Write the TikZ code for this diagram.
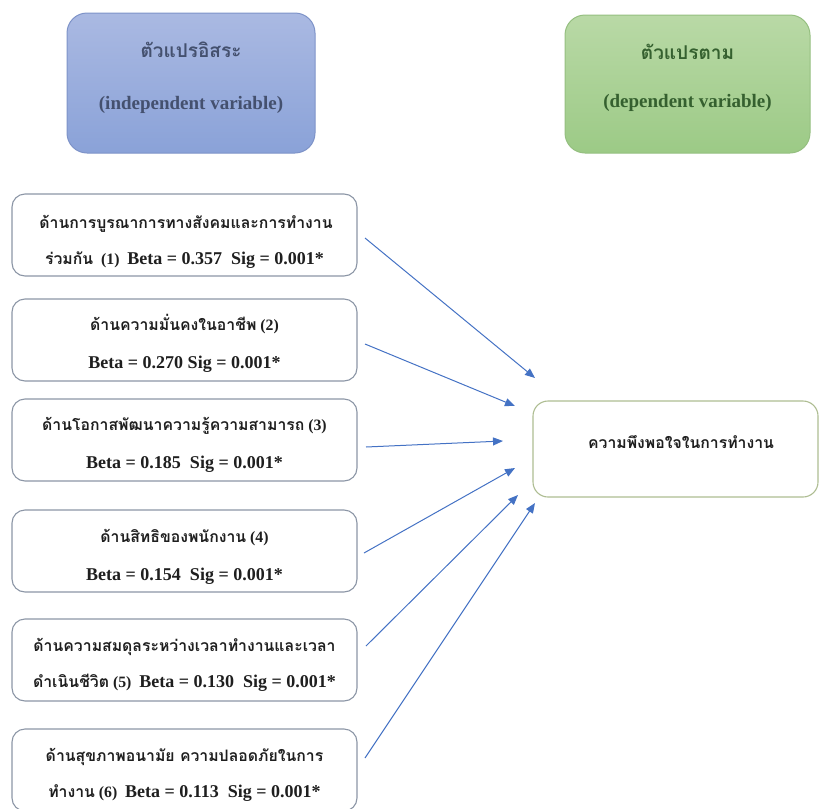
\documentclass[tikz,border=0pt]{standalone}
\usepackage{fontspec}
\setmainfont{Liberation Serif}
\newfontfamily\thaifont[Script=Thai]{Loma}
\usetikzlibrary{arrows.meta}
\definecolor{bluetop}{HTML}{AAB9E2}
\definecolor{bluebot}{HTML}{8AA2D8}
\definecolor{blueedge}{HTML}{7E93C8}
\definecolor{bluetext}{HTML}{44506E}
\definecolor{greentop}{HTML}{B9D9A6}
\definecolor{greenbot}{HTML}{9CCA86}
\definecolor{greenedge}{HTML}{95BF80}
\definecolor{greentext}{HTML}{35602F}
\definecolor{boxedge}{HTML}{8C96A6}
\definecolor{targetedge}{HTML}{AEBD92}
\definecolor{arrline}{HTML}{6F87B6}
\definecolor{arrhead}{HTML}{4472C4}
\newcommand{\thaitxt}[1]{{\thaifont\bfseries #1}}
\begin{document}
\begin{tikzpicture}[x=1pt,y=-1pt,
  hdrbox/.style={rounded corners=20pt, line width=1pt, minimum width=248pt, minimum height=140pt, inner sep=0pt},
  hdrth/.style={anchor=base, font=\fontsize{19}{22}\selectfont\thaifont\bfseries, inner sep=0pt},
  hdren/.style={anchor=base, font=\fontsize{19}{22}\selectfont\bfseries, inner sep=0pt},
  varbox/.style={draw=boxedge, line width=1.1pt, rounded corners=13pt, fill=white, minimum width=345pt, minimum height=82pt, inner sep=0pt},
  line/.style={anchor=base, font=\fontsize{15.8}{18}\selectfont\bfseries, text=black!88, inner sep=0pt},
  arr/.style={draw=arrline, line width=1pt, -{Triangle[length=10pt,width=8pt,fill=arrhead]}, arrhead}
]
\useasboundingbox (0,0) rectangle (820,809);

% header boxes
\node[hdrbox, draw=blueedge, top color=bluetop, bottom color=bluebot] (indep) at (191,83) {};
\node[hdrth, text=bluetext] (indepth) at (191,57) {ตัวแปรอิสระ};
\node[hdren, text=bluetext] (indepen) at (191,109) {(independent variable)};

\node[hdrbox, draw=greenedge, top color=greentop, bottom color=greenbot, minimum width=245pt, minimum height=138pt] (dep) at (687.5,84) {};
\node[hdrth, text=greentext] (depth) at (687.5,59) {ตัวแปรตาม};
\node[hdren, text=greentext] (depen) at (687.5,107) {(dependent variable)};

% independent variable boxes
\node[varbox] (b1) at (184.5,235) {};
\node[line] (b1a) at (186,228) {\thaitxt{ด้านการบูรณาการทางสังคมและการทำงาน}};
\node[line] (b1b) at (184.5,264) {\thaitxt{ร่วมกัน}~ (1)~ \fontsize{18}{20}\selectfont Beta = 0.357~ Sig = 0.001*};

\node[varbox] (b2) at (184.5,340) {};
\node[line] (b2a) at (184.5,330) {\thaitxt{ด้านความมั่นคงในอาชีพ} (2)};
\node[line] (b2b) at (184.5,368) {\fontsize{18}{20}\selectfont Beta = 0.270 Sig = 0.001*};

\node[varbox] (b3) at (184.5,440) {};
\node[line] (b3a) at (184.5,430) {\thaitxt{ด้านโอกาสพัฒนาความรู้ความสามารถ} (3)};
\node[line] (b3b) at (184.5,468) {\fontsize{18}{20}\selectfont Beta = 0.185~ Sig = 0.001*};

\node[varbox] (b4) at (184.5,551) {};
\node[line] (b4a) at (184.5,542) {\thaitxt{ด้านสิทธิของพนักงาน} (4)};
\node[line] (b4b) at (184.5,580) {\fontsize{18}{20}\selectfont Beta = 0.154~ Sig = 0.001*};

\node[varbox] (b5) at (184.5,660) {};
\node[line] (b5a) at (184.5,651) {\thaitxt{ด้านความสมดุลระหว่างเวลาทำงานและเวลา}};
\node[line] (b5b) at (184.5,687) {\thaitxt{ดำเนินชีวิต} (5)~ \fontsize{18}{20}\selectfont Beta = 0.130~ Sig = 0.001*};

\node[varbox] (b6) at (184.5,770) {};
\node[line] (b6a) at (184.5,761) {\thaitxt{ด้านสุขภาพอนามัย ความปลอดภัยในการ}};
\node[line] (b6b) at (184.5,797) {\thaitxt{ทำงาน} (6)~ \fontsize{18}{20}\selectfont Beta = 0.113~ Sig = 0.001*};

% dependent variable box
\node[draw=targetedge, line width=1.1pt, rounded corners=15pt, fill=white, minimum width=285pt, minimum height=96pt, inner sep=0pt] (target) at (675.5,449) {};
\node[line] (targett) at (681,448) {\thaitxt{ความพึงพอใจในการทำงาน}};

% arrows
\coordinate (s1) at (365,238); \coordinate (e1) at (535,378);
\coordinate (s2) at (365,344); \coordinate (e2) at (515,406);
\coordinate (s3) at (366,447); \coordinate (e3) at (503,441);
\coordinate (s4) at (364,553); \coordinate (e4) at (515,468);
\coordinate (s5) at (366,646); \coordinate (e5) at (518,495);
\coordinate (s6) at (365,758); \coordinate (e6) at (535,503);
\draw[arr] (s1) -- (e1);
\draw[arr] (s2) -- (e2);
\draw[arr] (s3) -- (e3);
\draw[arr] (s4) -- (e4);
\draw[arr] (s5) -- (e5);
\draw[arr] (s6) -- (e6);
\end{tikzpicture}
\end{document}
